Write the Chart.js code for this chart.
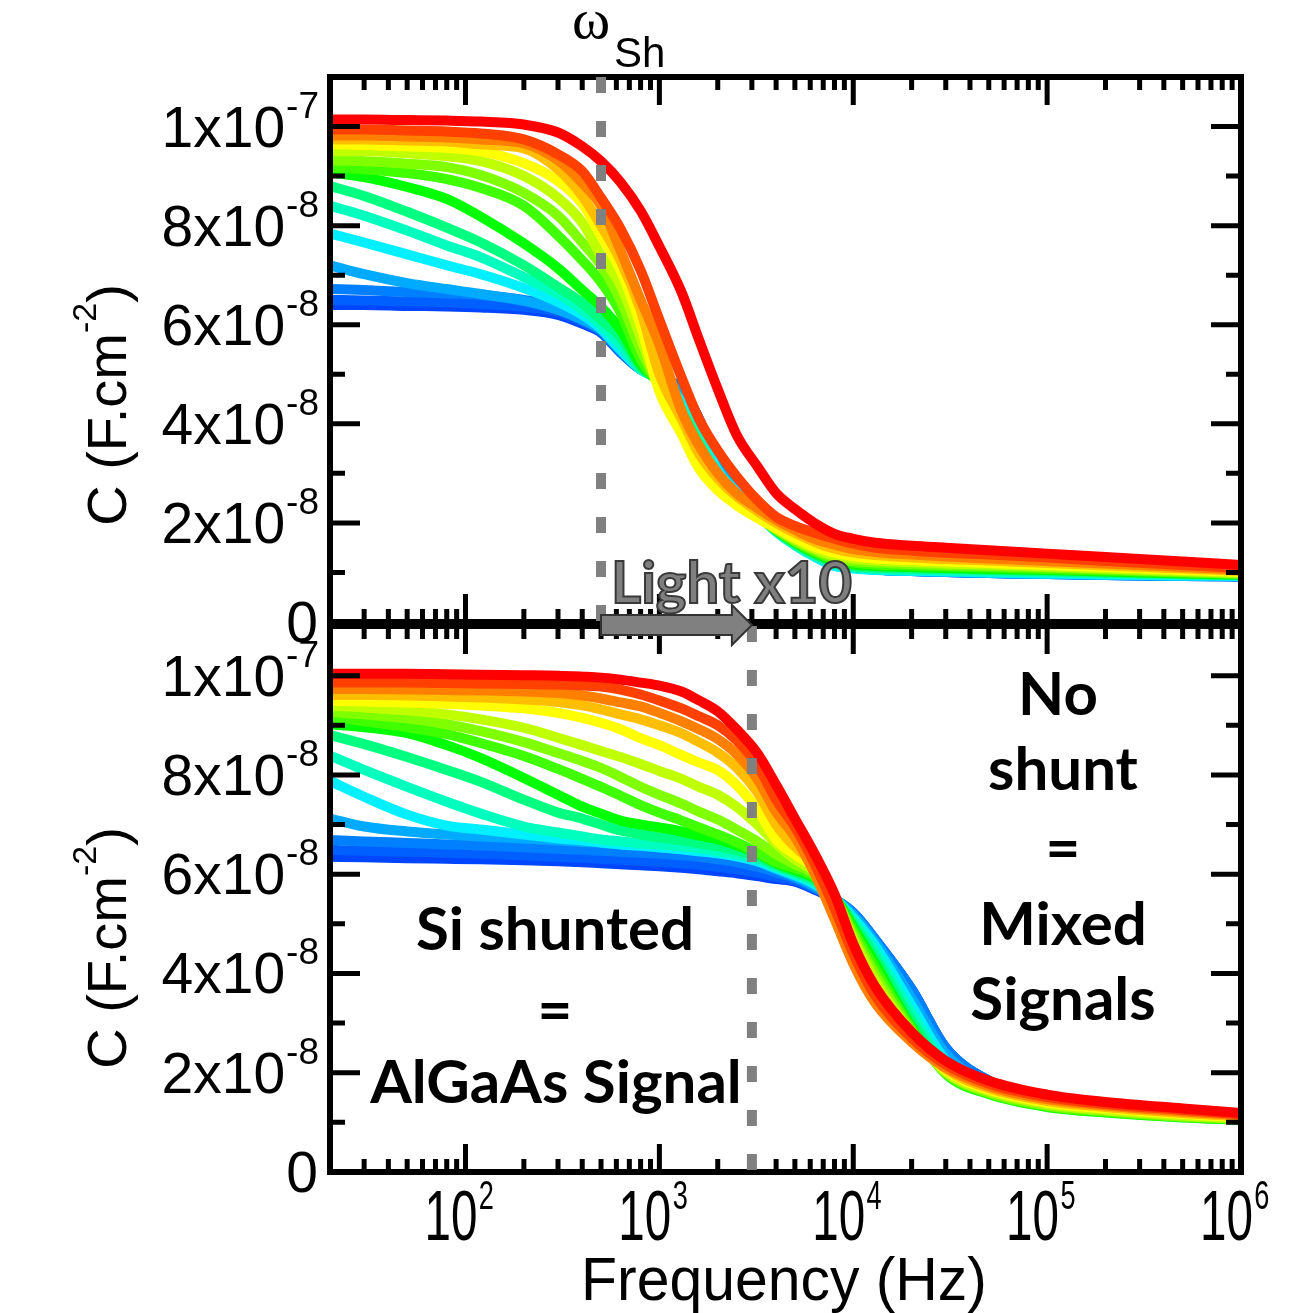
<!DOCTYPE html>
<html>
<head>
<meta charset="utf-8">
<script src="https://cdn.jsdelivr.net/npm/chart.js@4.4.1/dist/chart.umd.min.js"></script>
<style>
  html, body { margin: 0; padding: 0; background: #fff; }
  #wrap { position: relative; width: 1315px; height: 1313px; }
  canvas { position: absolute; left: 0; }
  #top { top: 0; }
  #bot { top: 600px; }
</style>
</head>
<body>
<div id="wrap">
  <canvas id="top" width="1315" height="650"></canvas>
  <canvas id="bot" width="1315" height="713"></canvas>
</div>
<script>
// frequency points (Hz), shared by all curves
const FREQ = [20, 30, 50, 80, 120, 200, 300, 400, 500, 630, 800, 1000, 1300, 1600, 2000, 2500, 3200, 4000, 5000, 6300,
              8000, 10000, 13000, 20000, 30000, 50000, 100000, 200000, 500000, 1000000];

// curve colours, first one drawn on top
const COLORS = ['#ff0000', '#ff4000', '#ff8000', '#ffbf00', '#ffff00', '#bfff00', '#80ff00', '#40ff00',
                '#00ff00', '#00ff80', '#00ffbf', '#00f0ff', '#00aaff', '#0080ff', '#0060ff', '#0045ff'];

// upper panel, C in units of 1e-8 F.cm-2
const top01 = [10.14,10.14,10.13,10.12,10.1,10.04,9.88,9.6,9.3,8.88,8.3,7.58,6.66,5.7,4.7,3.78,3.14,2.6,2.28,2.0,1.78,1.68,1.6,1.54,1.5,1.45,1.38,1.31,1.22,1.15];
const top02 = [9.94,9.94,9.92,9.9,9.86,9.74,9.44,9.1,8.56,7.94,7.1,6.1,4.94,4.1,3.46,2.94,2.46,2.12,1.94,1.8,1.68,1.58,1.5,1.44,1.4,1.36,1.3,1.23,1.15,1.09];
const top03 = [9.82,9.82,9.8,9.78,9.74,9.66,9.32,8.86,8.4,7.5,6.5,5.6,4.26,3.56,3.0,2.6,2.3,2.06,1.86,1.68,1.56,1.47,1.41,1.36,1.32,1.28,1.23,1.18,1.11,1.06];
const top04 = [9.74,9.74,9.72,9.7,9.64,9.56,9.14,8.6,8.0,7.3,6.3,5.0,4.1,3.4,2.9,2.54,2.24,2.0,1.8,1.62,1.48,1.4,1.35,1.3,1.27,1.24,1.19,1.14,1.08,1.03];
const top05 = [9.64,9.63,9.6,9.57,9.5,9.26,8.9,8.44,7.8,7.1,6.0,4.65,3.8,3.1,2.66,2.36,2.1,1.9,1.7,1.52,1.4,1.33,1.28,1.25,1.22,1.19,1.15,1.11,1.05,1.01];
const top06 = [9.5,9.5,9.46,9.4,9.3,9.0,8.56,8.06,7.4,6.8,5.75,4.7,3.9,3.2,2.71,2.39,2.11,1.88,1.67,1.48,1.34,1.28,1.24,1.21,1.18,1.16,1.12,1.08,1.03,0.99];
const top07 = [9.32,9.3,9.25,9.18,9.02,8.66,8.2,7.66,7.2,6.5,5.5,4.75,3.98,3.3,2.77,2.43,2.13,1.87,1.64,1.45,1.3,1.23,1.2,1.17,1.15,1.13,1.1,1.06,1.01,0.98];
const top08 = [9.18,9.14,9.06,8.94,8.76,8.4,7.8,7.3,6.86,6.25,5.3,4.8,4.06,3.4,2.82,2.46,2.14,1.86,1.62,1.42,1.26,1.2,1.16,1.14,1.12,1.1,1.07,1.04,1.0,0.97];
const top09 = [9.08,8.98,8.78,8.54,8.18,7.64,7.14,6.7,6.36,5.9,5.2,4.82,4.15,3.5,2.88,2.5,2.16,1.85,1.6,1.4,1.23,1.16,1.13,1.11,1.09,1.07,1.05,1.02,0.98,0.96];
const top10 = [8.8,8.6,8.28,7.96,7.66,7.2,6.76,6.44,6.1,5.75,5.15,4.85,4.24,3.6,2.93,2.53,2.17,1.84,1.58,1.37,1.2,1.13,1.1,1.08,1.07,1.05,1.03,1.0,0.97,0.95];
const top11 = [8.4,8.2,7.9,7.6,7.36,6.96,6.62,6.3,6.0,5.6,5.1,4.88,4.32,3.7,2.98,2.56,2.19,1.83,1.56,1.34,1.16,1.1,1.07,1.05,1.04,1.02,1.0,0.98,0.96,0.94];
const top12 = [7.84,7.66,7.42,7.2,7.02,6.74,6.46,6.2,5.92,5.5,5.1,4.9,4.45,3.85,3.06,2.62,2.21,1.82,1.55,1.32,1.13,1.08,1.05,1.03,1.02,1.0,0.98,0.96,0.94,0.93];
const top13 = [7.2,7.02,6.84,6.72,6.62,6.48,6.3,6.1,5.9,5.48,5.1,4.92,4.6,4.0,3.15,2.67,2.24,1.84,1.58,1.36,1.2,1.12,1.06,1.03,1.01,0.99,0.97,0.95,0.93,0.92];
const top14 = [6.72,6.7,6.66,6.63,6.6,6.5,6.36,6.1,5.88,5.46,5.1,4.95,4.7,4.1,3.2,2.7,2.25,1.85,1.58,1.36,1.2,1.12,1.06,1.03,1.01,0.99,0.97,0.95,0.93,0.92];
const top15 = [6.5,6.49,6.47,6.45,6.42,6.36,6.26,6.06,5.86,5.45,5.1,4.95,4.7,4.1,3.2,2.7,2.25,1.85,1.58,1.36,1.2,1.12,1.06,1.03,1.01,0.99,0.97,0.95,0.93,0.92];
const top16 = [6.4,6.4,6.38,6.37,6.35,6.3,6.2,6.02,5.84,5.44,5.1,4.95,4.7,4.1,3.2,2.7,2.25,1.85,1.58,1.36,1.2,1.12,1.06,1.03,1.01,0.99,0.97,0.95,0.93,0.92];

// lower panel (light x10)
const bot01 = [10.04,10.04,10.04,10.03,10.02,10.01,10.0,9.98,9.96,9.92,9.86,9.8,9.68,9.5,9.28,8.92,8.44,7.8,7.12,6.42,5.6,4.6,3.73,2.82,2.24,1.84,1.56,1.41,1.28,1.19];
const bot02 = [9.86,9.86,9.86,9.85,9.84,9.83,9.82,9.8,9.78,9.72,9.62,9.5,9.34,9.18,9.0,8.7,8.2,7.5,6.95,6.22,5.32,4.4,3.55,2.7,2.16,1.78,1.51,1.37,1.25,1.16];
const bot03 = [9.73,9.73,9.72,9.71,9.7,9.68,9.65,9.6,9.54,9.46,9.38,9.25,9.08,8.92,8.72,8.42,7.92,7.25,6.75,6.02,5.1,4.2,3.4,2.62,2.1,1.73,1.47,1.34,1.22,1.14];
const bot04 = [9.61,9.61,9.6,9.58,9.56,9.52,9.47,9.4,9.32,9.22,9.12,9.0,8.84,8.66,8.45,8.15,7.65,7.0,6.55,6.2,5.48,4.55,3.68,2.76,2.08,1.69,1.43,1.31,1.19,1.12];
const bot05 = [9.49,9.48,9.46,9.43,9.4,9.34,9.25,9.15,9.05,8.92,8.74,8.6,8.4,8.25,8.1,7.8,7.3,6.7,6.4,6.12,5.52,4.6,3.73,2.78,2.05,1.66,1.4,1.28,1.17,1.1];
const bot06 = [9.39,9.36,9.3,9.22,9.12,8.95,8.75,8.6,8.48,8.36,8.22,8.08,7.92,7.76,7.6,7.36,7.0,6.62,6.3,6.06,5.54,4.7,3.85,2.8,2.02,1.63,1.37,1.25,1.14,1.08];
const bot07 = [9.27,9.22,9.14,9.02,8.88,8.66,8.44,8.28,8.14,7.96,7.76,7.6,7.42,7.26,7.1,6.9,6.66,6.4,6.2,6.0,5.55,4.78,3.97,2.84,2.0,1.6,1.34,1.23,1.12,1.07];
const bot08 = [9.16,9.08,8.96,8.82,8.64,8.38,8.12,7.92,7.76,7.58,7.39,7.24,7.08,6.94,6.8,6.64,6.44,6.24,6.12,5.96,5.55,4.86,4.09,2.88,1.99,1.58,1.32,1.21,1.11,1.06];
const bot09 = [9.02,8.96,8.84,8.6,8.34,7.94,7.6,7.36,7.22,7.08,7.0,6.94,6.86,6.78,6.7,6.58,6.42,6.22,6.08,5.92,5.55,4.93,4.2,2.92,1.98,1.57,1.31,1.2,1.1,1.05];
const bot10 = [8.8,8.62,8.36,8.1,7.86,7.5,7.24,7.12,7.0,6.88,6.8,6.74,6.68,6.62,6.56,6.48,6.36,6.18,6.04,5.88,5.54,5.0,4.32,3.05,2.05,1.6,1.34,1.22,1.12,1.07];
const bot11 = [8.39,8.1,7.76,7.46,7.22,6.96,6.84,6.76,6.7,6.66,6.62,6.6,6.56,6.52,6.46,6.4,6.3,6.15,6.01,5.84,5.53,5.06,4.43,3.2,2.15,1.64,1.37,1.25,1.14,1.08];
const bot12 = [7.88,7.56,7.2,6.98,6.9,6.8,6.72,6.68,6.64,6.6,6.57,6.54,6.5,6.46,6.42,6.36,6.26,6.12,5.98,5.8,5.52,5.12,4.55,3.35,2.25,1.68,1.4,1.27,1.16,1.1];
const bot13 = [7.12,6.96,6.86,6.8,6.76,6.72,6.68,6.65,6.63,6.6,6.57,6.54,6.5,6.46,6.42,6.36,6.26,6.1,5.95,5.76,5.51,5.18,4.63,3.5,2.38,1.78,1.43,1.3,1.18,1.11];
const bot14 = [6.69,6.66,6.63,6.6,6.58,6.54,6.51,6.49,6.47,6.45,6.43,6.41,6.38,6.35,6.3,6.24,6.15,6.04,5.92,5.73,5.5,5.22,4.68,3.68,2.5,1.84,1.46,1.32,1.2,1.12];
const bot15 = [6.49,6.47,6.45,6.43,6.41,6.38,6.35,6.33,6.31,6.29,6.27,6.25,6.22,6.19,6.15,6.1,6.03,5.95,5.88,5.71,5.5,5.22,4.68,3.68,2.5,1.84,1.46,1.32,1.2,1.12];
const bot16 = [6.35,6.34,6.32,6.31,6.3,6.28,6.26,6.24,6.22,6.2,6.18,6.16,6.13,6.1,6.06,6.02,5.96,5.9,5.85,5.69,5.5,5.22,4.68,3.68,2.5,1.84,1.46,1.32,1.2,1.12];

// axis ticks
const Y_TICK_VALUES = [0, 2, 4, 6, 8, 10];
const Y_TICK_BASE = ['0', '2x10', '4x10', '6x10', '8x10', '1x10'];
const Y_TICK_EXP = ['', '-8', '-8', '-8', '-8', '-7'];
const X_TICK_VALUES = [100, 1000, 10000, 100000, 1000000];
const X_TICK_EXP = ['2', '3', '4', '5', '6'];

// dotted markers: shunt frequency, then x10 under more light
const W_SH_TOP = 500;
const W_SH_BOT = 3000;

const SANS = '"Liberation Sans", Arial, sans-serif';
const BOLD = 'bold 60px Lato, "Open Sans", sans-serif';

function makeDatasets(series) {
    return series.map((vals, i) => ({
        data: FREQ.map((f, j) => ({ x: f, y: vals[j] })),
        borderColor: COLORS[i],
        borderWidth: 10,
        pointRadius: 0,
        cubicInterpolationMode: 'monotone',
        fill: false,
        clip: 0
    }));
}

function drawFrame(chart) {
    const ctx = chart.ctx, a = chart.chartArea;
    const x = chart.scales.x, y = chart.scales.y;
    ctx.save();
    ctx.strokeStyle = '#000';
    ctx.lineWidth = 5;
    ctx.beginPath();
    for (let d = 1; d <= 6; d++) {
        for (let m = 1; m <= 9; m++) {
            const f = m * Math.pow(10, d);
            if (f <= 20 || f > 1e6) continue;
            const px = x.getPixelForValue(f);
            const len = m === 1 ? 28 : 13;
            ctx.moveTo(px, a.bottom); ctx.lineTo(px, a.bottom - len);
            ctx.moveTo(px, a.top); ctx.lineTo(px, a.top + len);
        }
    }
    for (let v = 1; v < 11; v++) {
        const py = y.getPixelForValue(v);
        const len = v % 2 === 0 ? 30 : 15;
        ctx.moveTo(a.left, py); ctx.lineTo(a.left + len, py);
        ctx.moveTo(a.right, py); ctx.lineTo(a.right - len, py);
    }
    ctx.stroke();
    ctx.lineWidth = 6;
    ctx.strokeRect(a.left, a.top, a.right - a.left, a.bottom - a.top);
    ctx.restore();
}

function drawDashed(chart, freq) {
    const ctx = chart.ctx, a = chart.chartArea;
    const px = chart.scales.x.getPixelForValue(freq);
    ctx.save();
    ctx.strokeStyle = '#808080';
    ctx.lineWidth = 10;
    ctx.setLineDash([16, 28]);
    ctx.beginPath();
    ctx.moveTo(px, a.top);
    ctx.lineTo(px, a.bottom);
    ctx.stroke();
    ctx.restore();
}

function drawYLabels(chart) {
    const ctx = chart.ctx, y = chart.scales.y;
    ctx.save();
    ctx.fillStyle = '#000';
    ctx.textAlign = 'right';
    Y_TICK_VALUES.forEach((v, i) => {
        const base = y.getPixelForValue(v) + 20;
        const sup = Y_TICK_EXP[i];
        ctx.font = '37px ' + SANS;
        const ws = sup ? ctx.measureText(sup).width : 0;
        if (sup) ctx.fillText(sup, 319, base - 29);
        ctx.font = '57px ' + SANS;
        ctx.fillText(Y_TICK_BASE[i], 318 - ws, base);
    });
    ctx.restore();
}

function drawYTitle(chart, cy) {
    const ctx = chart.ctx;
    ctx.save();
    ctx.translate(126, cy);
    ctx.rotate(-Math.PI / 2);
    ctx.fillStyle = '#000';
    ctx.textAlign = 'left';
    ctx.font = '56px ' + SANS;
    const w1 = ctx.measureText('C (F.cm').width;
    const w3 = ctx.measureText(')').width;
    ctx.font = '34px ' + SANS;
    const w2 = ctx.measureText('-2').width;
    let xx = -(w1 + w2 + w3) / 2;
    ctx.font = '56px ' + SANS;
    ctx.fillText('C (F.cm', xx, 0);
    ctx.font = '34px ' + SANS;
    ctx.fillText('-2', xx + w1, -30);
    ctx.font = '56px ' + SANS;
    ctx.fillText(')', xx + w1 + w2, 0);
    ctx.restore();
}

function centerText(ctx, txt, x, y) {
    ctx.textAlign = 'center';
    ctx.fillText(txt, x, y);
}

const topDecor = {
    id: 'topDecor',
    afterDatasetsDraw(chart) {
        const ctx = chart.ctx;
        drawFrame(chart);
        drawDashed(chart, W_SH_TOP);
        drawYLabels(chart);
        drawYTitle(chart, 405);
        // omega_Sh label
        ctx.save();
        ctx.fillStyle = '#000';
        ctx.textAlign = 'left';
        ctx.font = '58px "Liberation Serif", "DejaVu Serif", serif';
        ctx.fillText('\u03c9', 572, 38);
        ctx.font = '42px ' + SANS;
        ctx.fillText('Sh', 614, 67);
        // light label
        ctx.font = 'bold 58px Lato, "Open Sans", sans-serif';
        ctx.fillStyle = '#7f7f7f';
        ctx.strokeStyle = '#3a3a3a';
        ctx.lineWidth = 2;
        ctx.fillText('Light x10', 611, 603);
        ctx.strokeText('Light x10', 611, 603);
        ctx.restore();
    }
};

const botDecor = {
    id: 'botDecor',
    afterDatasetsDraw(chart) {
        const ctx = chart.ctx;
        const x = chart.scales.x;
        drawFrame(chart);
        drawDashed(chart, W_SH_BOT);
        drawYLabels(chart);
        drawYTitle(chart, 348);

        // arrow from the upper marker to the lower one
        const x0 = x.getPixelForValue(W_SH_TOP), x1 = x.getPixelForValue(W_SH_BOT);
        const hx = x1 - 20;
        ctx.save();
        ctx.fillStyle = '#808080';
        ctx.strokeStyle = '#333';
        ctx.lineWidth = 2;
        ctx.beginPath();
        ctx.moveTo(x0, 15);
        ctx.lineTo(hx, 15);
        ctx.lineTo(hx, 5);
        ctx.lineTo(x1, 25);
        ctx.lineTo(hx, 45);
        ctx.lineTo(hx, 35);
        ctx.lineTo(x0, 35);
        ctx.closePath();
        ctx.fill();
        ctx.stroke();

        // x tick labels
        ctx.fillStyle = '#000';
        ctx.textAlign = 'left';
        X_TICK_VALUES.forEach((v, i) => {
            const px = x.getPixelForValue(v) - 7;
            ctx.font = '70px ' + SANS;
            const wb = ctx.measureText('10').width;
            ctx.font = '40px ' + SANS;
            const ws = ctx.measureText(X_TICK_EXP[i]).width;
            const sx = 0.68;
            ctx.save();
            ctx.translate(px - (wb + ws) * sx / 2, 640);
            ctx.scale(sx, 1);
            ctx.font = '70px ' + SANS;
            ctx.fillText('10', 0, 0);
            ctx.font = '40px ' + SANS;
            ctx.fillText(X_TICK_EXP[i], wb + 2, -31);
            ctx.restore();
        });

        // x axis title
        ctx.save();
        ctx.translate(784, 700);
        ctx.scale(0.95, 1);
        ctx.font = '62px ' + SANS;
        centerText(ctx, 'Frequency (Hz)', 0, 0);
        ctx.restore();

        // annotations
        ctx.font = BOLD;
        ctx.fillStyle = '#000';
        centerText(ctx, 'Si shunted', 555, 350);
        centerText(ctx, '=', 555, 431);
        centerText(ctx, 'AlGaAs Signal', 556, 503);
        centerText(ctx, 'No', 1058, 115);
        centerText(ctx, 'shunt', 1063, 190);
        centerText(ctx, '=', 1063, 269);
        centerText(ctx, 'Mixed', 1063, 345);
        centerText(ctx, 'Signals', 1063, 420);
        ctx.restore();
    }
};

function baseOptions(padding) {
    return {
        responsive: false,
        animation: false,
        events: [],
        layout: { padding: padding },
        plugins: { legend: { display: false }, tooltip: { enabled: false } },
        scales: {
            x: { type: 'logarithmic', min: 20, max: 1e6, display: false },
            y: { type: 'linear', min: 0, max: 11, display: false }
        }
    };
}

new Chart(document.getElementById('top').getContext('2d'), {
    type: 'line',
    data: { datasets: makeDatasets([top01, top02, top03, top04, top05, top06, top07, top08,
                                    top09, top10, top11, top12, top13, top14, top15, top16]) },
    options: baseOptions({ left: 330, right: 74, top: 77, bottom: 28 }),
    plugins: [topDecor]
});

new Chart(document.getElementById('bot').getContext('2d'), {
    type: 'line',
    data: { datasets: makeDatasets([bot01, bot02, bot03, bot04, bot05, bot06, bot07, bot08,
                                    bot09, bot10, bot11, bot12, bot13, bot14, bot15, bot16]) },
    options: baseOptions({ left: 330, right: 74, top: 26, bottom: 141 }),
    plugins: [botDecor]
});
</script>
</body>
</html>
